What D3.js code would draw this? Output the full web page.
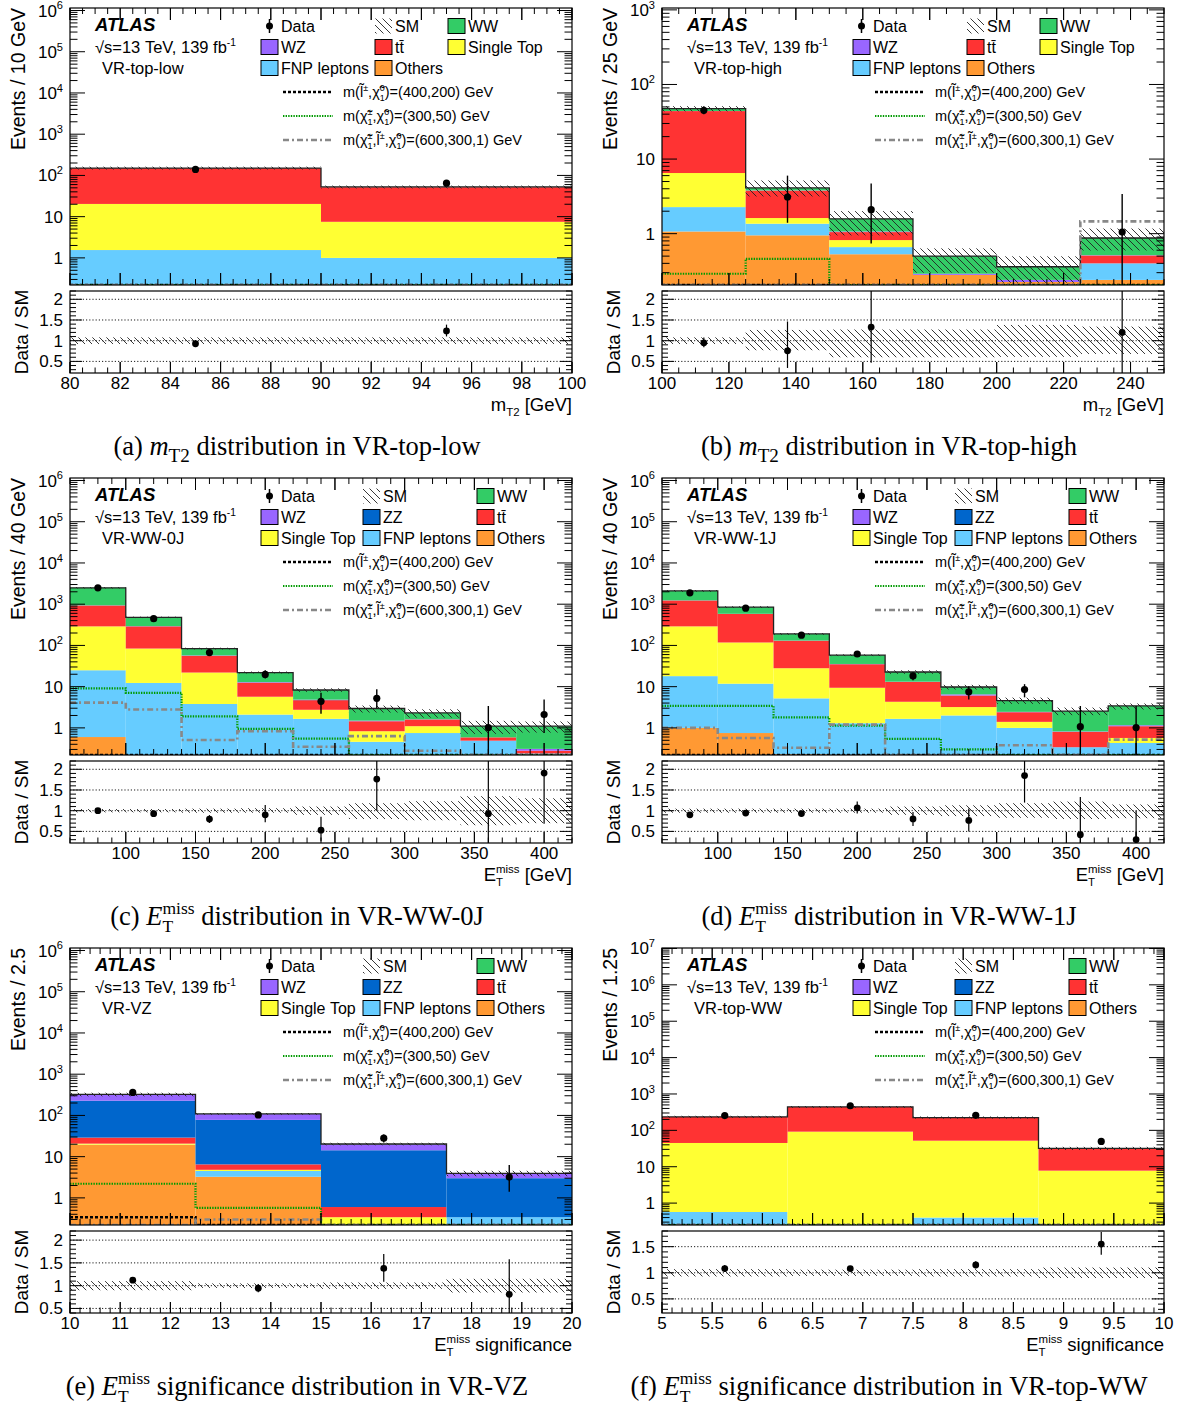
<!DOCTYPE html>
<html>
<head>
<meta charset="utf-8">
<script src="https://cdn.jsdelivr.net/npm/d3@7"></script>
<style>
body { margin: 0; background: #fff; }
</style>
</head>
<body>
<div id="fig"></div>
<script>
// ---- (a) VR-top-low, mT2 ----
const aEdges = [80, 90, 100];
const aTicks = [80, 82, 84, 86, 88, 90, 92, 94, 96, 98, 100];
const aOthers = [0.05, 0.05];
const aFnp = [1.5, 0.95];
const aSingleTop = [18.8, 6.5];
const aTtbar = [130, 44.5];
const aZZ = [0, 0];
const aWZ = [0.3, 0.2];
const aWW = [0.5, 0.4];
const aData = [140, 65];
const aDataLo = [128, 58];
const aDataHi = [152, 73];
const aBandLo = [0.92, 0.92];
const aBandHi = [1.08, 1.08];
const aSigSlep = [0, 0];
const aSigC1 = [0, 0];
const aSigC1Slep = [0, 0];

// ---- (b) VR-top-high, mT2 ----
const bEdges = [100, 125, 150, 175, 200, 225, 250];
const bTicks = [100, 120, 140, 160, 180, 200, 220, 240];
const bOthers = [1.07, 0.95, 0.53, 0.28, 0.225, 0.24];
const bFnp = [1.2, 0.41, 0.13, 0, 0, 0.16];
const bSingleTop = [4.23, 0.26, 0.16, 0, 0, 0];
const bTtbar = [37.5, 2.16, 0.23, 0, 0, 0.11];
const bZZ = [0, 0, 0, 0, 0, 0];
const bWZ = [0.1, 0.02, 0.02, 0.01, 0.015, 0.005];
const bWW = [3.3, 0.3, 0.51, 0.21, 0.12, 0.36];
const bData = [45, 3.1, 2.1, null, null, 1.05];
const bDataLo = [40, 1.4, 0.74, null, null, 0.17];
const bDataHi = [51, 6.0, 4.7, null, null, 3.4];
const bBandLo = [0.92, 0.77, 0.6, 0.6, 0.61, 0.68];
const bBandHi = [1.08, 1.26, 1.27, 1.27, 1.38, 1.34];
const bSigSlep = [0, 0, 0, 0, 0, 0];
const bSigC1 = [0.29, 0.46, 0, 0, 0, 0];
const bSigC1Slep = [0, 0, 0, 0, 0, 1.46];

// ---- (c) VR-WW-0J, MET ----
const cEdges = [60, 100, 140, 180, 220, 260, 300, 340, 380, 420];
const cTicks = [100, 150, 200, 250, 300, 350, 400];
const cOthers = [0.6, 0, 0, 0, 0, 0, 0, 0, 0];
const cFnp = [24.4, 12.3, 3.8, 2.1, 1.66, 0.46, 0.75, 0.49, 0.24];
const cSingleTop = [265, 71.7, 18.2, 3.6, 1.09, 0.37, 0.35, 0, 0];
const cTtbar = [640, 206, 34, 6.8, 1.95, 0.62, 0.5, 0.1, 0.04];
const cZZ = [3, 1, 0.3, 0.1, 0.05, 0, 0, 0, 0];
const cWZ = [8, 3, 1, 0.3, 0.1, 0.05, 0.02, 0, 0.03];
const cWW = [1560, 186, 26.7, 9.1, 3.45, 1.45, 0.68, 0.51, 0.79];
const cData = [2500, 446, 67, 19.8, 4.4, 5.2, null, 1.02, 2.1];
const cDataLo = [2450, 425, 59, 15.8, 2.2, 3.0, null, 0.17, 0.75];
const cDataHi = [2550, 467, 75, 25, 7.1, 8.6, null, 3.4, 4.9];
const cBandLo = [0.96, 0.96, 0.95, 0.95, 0.9, 0.8, 0.77, 0.65, 0.7];
const cBandHi = [1.04, 1.04, 1.05, 1.06, 1.1, 1.18, 1.23, 1.35, 1.3];
const cSigSlep = [0, 0, 0, 0, 0, 0, 0, 0, 0];
const cSigC1 = [9.1, 7.1, 1.9, 0.95, 0.55, 0, 0, 0, 0];
const cSigC1Slep = [4.1, 2.8, 0.51, 0.83, 0.35, 0.63, 0.28, 0, 0];

// ---- (d) VR-WW-1J, MET ----
const dEdges = [60, 100, 140, 180, 220, 260, 300, 340, 380, 420];
const dTicks = [100, 150, 200, 250, 300, 350, 400];
const dOthers = [1.0, 0.75, 0.23, 0, 0, 0, 0, 0, 0];
const dFnp = [17, 11.05, 4.97, 1.3, 1.66, 2.0, 1.0, 0.34, 0.43];
const dSingleTop = [272, 106, 22.8, 8.1, 2.64, 1.2, 0.4, 0, 0.14];
const dTtbar = [940, 462, 102, 25.6, 8.7, 2.9, 1.0, 0.46, 0.53];
const dZZ = [3, 1, 0.3, 0.1, 0, 0, 0, 0, 0];
const dWZ = [8, 4, 1, 0.4, 0.2, 0.4, 0.05, 0.02, 0.06];
const dWW = [860, 265, 58.7, 22.5, 9.5, 3.3, 2.15, 1.73, 2.24];
const dData = [1890, 800, 177, 62, 18.2, 7.5, 8.5, 1.07, 1.02];
const dDataLo = [1845, 772, 164, 54, 14.3, 4.9, 5.5, 0.17, 0.17];
const dDataHi = [1935, 828, 190, 71, 22, 10.3, 11.5, 3.4, 3.4];
const dBandLo = [0.95, 0.95, 0.95, 0.95, 0.9, 0.87, 0.83, 0.8, 0.82];
const dBandHi = [1.05, 1.05, 1.05, 1.05, 1.1, 1.13, 1.18, 1.22, 1.15];
const dSigSlep = [0, 0, 0, 0, 0, 0, 0, 0, 0];
const dSigC1 = [3.4, 3.4, 1.8, 1.14, 0.54, 0.3, 0, 0, 0];
const dSigC1Slep = [1.0, 0.57, 0.33, 1.2, 0, 0, 0.38, 0, 0.52];

// ---- (e) VR-VZ, MET significance ----
const eEdges = [10, 12.5, 15, 17.5, 20];
const eTicks = [10, 11, 12, 13, 14, 15, 16, 17, 18, 19, 20];
const eOthers = [19.3, 3.25, 0, 0];
const eFnp = [0.2, 1.25, 0, 0.34];
const eSingleTop = [1.2, 0.3, 0.34, 0];
const eTtbar = [8.3, 1.7, 0.26, 0];
const eZZ = [199, 71.5, 13.7, 2.66];
const eWZ = [87, 30, 5.7, 0.9];
const eWW = [8, 1, 0.3, 0.05];
const eData = [362, 103, 28, 3.2];
const eDataLo = [343, 93, 22, 1.4];
const eDataHi = [381, 113, 34.4, 6.25];
const eBandLo = [0.9, 0.95, 0.93, 0.85];
const eBandHi = [1.1, 1.05, 1.07, 1.15];
const eSigSlep = [0.34, 0, 0, 0];
const eSigC1 = [2.2, 0.57, 0, 0];
const eSigC1Slep = [0, 0.3, 0, 0];

// ---- (f) VR-top-WW, MET significance ----
const fEdges = [5, 6.25, 7.5, 8.75, 10];
const fTicks = [5, 5.5, 6, 6.5, 7, 7.5, 8, 8.5, 9, 9.5, 10];
const fOthers = [0, 0, 0, 0];
const fFnp = [0.57, 0, 0.4, 0];
const fSingleTop = [44.4, 92, 51.6, 7.8];
const fTtbar = [190, 348, 173, 24.2];
const fZZ = [0, 0, 0, 0];
const fWZ = [0, 0, 0, 0];
const fWW = [0, 0, 0, 0];
const fData = [254, 475, 259, 49.6];
const fDataLo = [238, 453, 243, 43];
const fDataHi = [270, 497, 275, 57];
const fBandLo = [0.93, 0.94, 0.93, 0.9];
const fBandHi = [1.07, 1.06, 1.07, 1.1];
const fSigSlep = [0, 0, 0, 0];
const fSigC1 = [0, 0, 0, 0];
const fSigC1Slep = [0, 0, 0, 0];

const SANS = '"Liberation Sans", Arial, Helvetica, sans-serif';
const SERIF = '"Liberation Serif", "Times New Roman", serif';
const keys = ["others", "fnp", "st", "tt", "zz", "wz", "ww"];
const colors = { others: "#ff9933", fnp: "#66ccff", st: "#ffff33", tt: "#ff3333",
                 zz: "#0066cc", wz: "#9966ff", ww: "#33cc66" };

const TILDE = "\u0303";
const mt2Title = ["m", { sub: "T2" }, " [GeV]"];
const metTitle = ["E", { sup: "miss", sub: "T" }, " [GeV]"];
const sigTitle = ["E", { sup: "miss", sub: "T" }, " significance"];
const mt2Cap = (l, r) => ["(" + l + ") ", { t: "m", i: true }, { sub: "T2", scale: 0.72 }, " distribution in " + r];
const metCap = (l, txt) => ["(" + l + ") ", { t: "E", i: true }, { sup: "miss", sub: "T", scale: 0.66 }, txt];

const panels = [
  { edges: aEdges, others: aOthers, fnp: aFnp, st: aSingleTop, tt: aTtbar, zz: aZZ, wz: aWZ, ww: aWW,
    data: aData, lo: aDataLo, hi: aDataHi, bandLo: aBandLo, bandHi: aBandHi, sig: [aSigSlep, aSigC1, aSigC1Slep],
    yDom: [0.22, 1.15e6], rDom: [0.22, 2.2], rMajor: [0.5, 1, 1.5, 2], xTicks: aTicks, xMinor: 0.5,
    yTitle: "Events / 10 GeV", region: "VR-top-low", legend: "ab", xTitle: mt2Title, caption: mt2Cap("a", "VR-top-low") },
  { edges: bEdges, others: bOthers, fnp: bFnp, st: bSingleTop, tt: bTtbar, zz: bZZ, wz: bWZ, ww: bWW,
    data: bData, lo: bDataLo, hi: bDataHi, bandLo: bBandLo, bandHi: bBandHi, sig: [bSigSlep, bSigC1, bSigC1Slep],
    yDom: [0.205, 1.06e3], rDom: [0.22, 2.2], rMajor: [0.5, 1, 1.5, 2], xTicks: bTicks, xMinor: 5,
    yTitle: "Events / 25 GeV", region: "VR-top-high", legend: "ab", xTitle: mt2Title, caption: mt2Cap("b", "VR-top-high") },
  { edges: cEdges, others: cOthers, fnp: cFnp, st: cSingleTop, tt: cTtbar, zz: cZZ, wz: cWZ, ww: cWW,
    data: cData, lo: cDataLo, hi: cDataHi, bandLo: cBandLo, bandHi: cBandHi, sig: [cSigSlep, cSigC1, cSigC1Slep],
    yDom: [0.22, 1.15e6], rDom: [0.22, 2.2], rMajor: [0.5, 1, 1.5, 2], xTicks: cTicks, xMinor: 10,
    yTitle: "Events / 40 GeV", region: "VR-WW-0J", legend: "cdef", xTitle: metTitle, caption: metCap("c", " distribution in VR-WW-0J") },
  { edges: dEdges, others: dOthers, fnp: dFnp, st: dSingleTop, tt: dTtbar, zz: dZZ, wz: dWZ, ww: dWW,
    data: dData, lo: dDataLo, hi: dDataHi, bandLo: dBandLo, bandHi: dBandHi, sig: [dSigSlep, dSigC1, dSigC1Slep],
    yDom: [0.22, 1.15e6], rDom: [0.22, 2.2], rMajor: [0.5, 1, 1.5, 2], xTicks: dTicks, xMinor: 10,
    yTitle: "Events / 40 GeV", region: "VR-WW-1J", legend: "cdef", xTitle: metTitle, caption: metCap("d", " distribution in VR-WW-1J") },
  { edges: eEdges, others: eOthers, fnp: eFnp, st: eSingleTop, tt: eTtbar, zz: eZZ, wz: eWZ, ww: eWW,
    data: eData, lo: eDataLo, hi: eDataHi, bandLo: eBandLo, bandHi: eBandHi, sig: [eSigSlep, eSigC1, eSigC1Slep],
    yDom: [0.22, 1.15e6], rDom: [0.4, 2.2], rMajor: [0.5, 1, 1.5, 2], xTicks: eTicks, xMinor: 0.2,
    yTitle: "Events / 2.5", region: "VR-VZ", legend: "cdef", xTitle: sigTitle, caption: metCap("e", " significance distribution in VR-VZ") },
  { edges: fEdges, others: fOthers, fnp: fFnp, st: fSingleTop, tt: fTtbar, zz: fZZ, wz: fWZ, ww: fWW,
    data: fData, lo: fDataLo, hi: fDataHi, bandLo: fBandLo, bandHi: fBandHi, sig: [fSigSlep, fSigC1, fSigC1Slep],
    yDom: [0.25, 1.03e7], rDom: [0.23, 1.8], rMajor: [0.5, 1, 1.5], xTicks: fTicks, xMinor: 0.1,
    yTitle: "Events / 1.25", region: "VR-top-WW", legend: "cdef", xTitle: sigTitle, caption: metCap("f", " significance distribution in VR-top-WW") }
];

const svg = d3.select("#fig").append("svg").attr("width", 1183).attr("height", 1409);
const defs = svg.append("defs");
defs.append("pattern").attr("id", "hatch").attr("patternUnits", "userSpaceOnUse")
  .attr("width", 7).attr("height", 7)
  .append("path").attr("d", "M-1,-1 L8,8 M6,-1 L8,1 M-1,6 L1,8")
  .attr("stroke", "#222").attr("stroke-width", 0.9);

const nb = s => s.replace(/ /g, "\u00a0"); // espaces insecables, sinon svg les mange

// texte avec exposants / indices (les deux empiles si besoin)
function rich(g, x, y, parts, opt) {
  const size = opt.size, fam = opt.family || SANS;
  const grp = g.append("g");
  let cx = 0;
  parts.forEach(p => {
    if (typeof p === "string") p = { t: p };
    if (p.t !== undefined) {
      const el = grp.append("text").attr("x", cx).attr("y", 0)
        .attr("font-size", size).attr("font-family", fam)
        .attr("font-style", p.i || opt.italic ? "italic" : "normal")
        .attr("font-weight", opt.bold ? "bold" : "normal").text(nb(p.t));
      cx += el.node().getComputedTextLength();
    } else {
      const s = size * (p.scale || 0.62);
      let w = 0;
      if (p.sup !== undefined) {
        const el = grp.append("text").attr("x", cx).attr("y", -size * 0.42)
          .attr("font-size", s).attr("font-family", fam).text(p.sup);
        w = Math.max(w, el.node().getComputedTextLength());
      }
      if (p.sub !== undefined) {
        const el = grp.append("text").attr("x", cx).attr("y", size * 0.28)
          .attr("font-size", s).attr("font-family", fam).text(p.sub);
        w = Math.max(w, el.node().getComputedTextLength());
      }
      cx += w;
    }
  });
  const dx = opt.anchor === "end" ? -cx : opt.anchor === "middle" ? -cx / 2 : 0;
  grp.attr("transform", `translate(${x + dx},${y})`);
  return grp;
}

function stepPath(vals, x, y, edges) {
  let s = "";
  vals.forEach((v, i) => {
    const yy = y(v);
    s += (i === 0 ? `M${x(edges[0])},${yy}` : `V${yy}`) + `H${x(edges[i + 1])}`;
  });
  return s;
}

const sigStyles = [
  { stroke: "#000", width: 2.6, dash: "3,2" },
  { stroke: "#009a00", width: 2.2, dash: "1.4,1.2" },
  { stroke: "#888", width: 2.6, dash: "6,3,2,3" }
];

function drawLegend(g, X0, Y0, p) {
  rich(g, X0 + 25, Y0 + 23, ["ATLAS"], { size: 18.5, bold: true, italic: true });
  rich(g, X0 + 25, Y0 + 45, ["\u221As=13 TeV, 139 fb", { sup: "-1" }], { size: 16.5 });
  rich(g, X0 + 32, Y0 + 66, [p.region], { size: 16.5 });

  const cols = p.legend === "ab" ? [191, 305, 378] : [191, 293, 407];
  const rowsY = [18, 39, 60];
  const tt = "t" + "t\u0304";
  const entries = p.legend === "ab"
    ? [[["data", "Data"], ["sm", "SM"], ["ww", "WW"]],
       [["wz", "WZ"], ["tt", tt], ["st", "Single Top"]],
       [["fnp", "FNP leptons"], ["others", "Others"]]]
    : [[["data", "Data"], ["sm", "SM"], ["ww", "WW"]],
       [["wz", "WZ"], ["zz", "ZZ"], ["tt", tt]],
       [["st", "Single Top"], ["fnp", "FNP leptons"], ["others", "Others"]]];
  entries.forEach((row, ri) => row.forEach((e, ci) => {
    const bx = X0 + cols[ci], cy = Y0 + rowsY[ri];
    if (e[0] === "data") {
      g.append("line").attr("x1", bx + 8.5).attr("x2", bx + 8.5).attr("y1", cy - 7).attr("y2", cy + 7)
        .attr("stroke", "#000").attr("stroke-width", 1.5);
      g.append("circle").attr("cx", bx + 8.5).attr("cy", cy).attr("r", 3.5).attr("fill", "#000");
    } else if (e[0] === "sm") {
      g.append("rect").attr("x", bx).attr("y", cy - 7.5).attr("width", 17).attr("height", 15)
        .attr("fill", "url(#hatch)");
    } else {
      g.append("rect").attr("x", bx).attr("y", cy - 7.5).attr("width", 17).attr("height", 15)
        .attr("fill", colors[e[0]]).attr("stroke", "#000").attr("stroke-width", 1);
    }
    rich(g, bx + 20, cy + 6, [e[1]], { size: 16 });
  }));

  const chi = "\u03c7" + TILDE, sl = "l" + TILDE;
  const sigTexts = [
    ["m(", sl, { sup: "\u00b1" }, ",", chi, { sup: "0", sub: "1" }, ")=(400,200) GeV"],
    ["m(", chi, { sup: "\u00b1", sub: "1" }, ",", chi, { sup: "0", sub: "1" }, ")=(300,50) GeV"],
    ["m(", chi, { sup: "\u00b1", sub: "1" }, ",", sl, { sup: "\u00b1" }, ",", chi, { sup: "0", sub: "1" }, ")=(600,300,1) GeV"]
  ];
  sigTexts.forEach((t, i) => {
    const cy = Y0 + 84 + i * 24;
    const st = sigStyles[i];
    g.append("line").attr("x1", X0 + 213).attr("x2", X0 + 263).attr("y1", cy).attr("y2", cy)
      .attr("stroke", st.stroke).attr("stroke-width", st.width).attr("stroke-dasharray", st.dash);
    rich(g, X0 + 273, cy + 5, t, { size: 14.5 });
  });
}

function drawPanel(p, idx) {
  const col = idx % 2, row = Math.floor(idx / 2);
  const X0 = 70 + col * 592, X1 = X0 + 502;
  const Y0 = 8 + row * 470, Y1 = Y0 + 277, R0 = Y0 + 283, R1 = Y0 + 365;
  const edges = p.edges, nbins = edges.length - 1, bins = d3.range(nbins);
  const g = svg.append("g");

  const x = d3.scaleLinear().domain([edges[0], edges[nbins]]).range([X0, X1]);
  const y = d3.scaleLog().domain(p.yDom).range([Y1, Y0]).clamp(true);
  const r = d3.scaleLinear().domain(p.rDom).range([R1, R0]).clamp(true);

  defs.append("clipPath").attr("id", "mclip" + idx).append("rect")
    .attr("x", X0).attr("y", Y0).attr("width", X1 - X0).attr("height", Y1 - Y0);
  defs.append("clipPath").attr("id", "rclip" + idx).append("rect")
    .attr("x", X0).attr("y", R0).attr("width", X1 - X0).attr("height", R1 - R0);

  // --- empilement
  const rows = bins.map(i => { const o = {}; keys.forEach(k => o[k] = p[k][i]); return o; });
  const series = d3.stack().keys(keys)(rows);
  const totals = bins.map(i => d3.sum(keys, k => p[k][i]));
  const main = g.append("g").attr("clip-path", `url(#mclip${idx})`);

  series.forEach(s => {
    main.append("g").selectAll("rect")
      .data(s.map((d, i) => ({ y0: d[0], y1: d[1], i })).filter(d => d.y1 > d.y0))
      .join("rect")
      .attr("x", d => x(edges[d.i])).attr("width", d => x(edges[d.i + 1]) - x(edges[d.i]))
      .attr("y", d => y(d.y1)).attr("height", d => Math.max(0, y(d.y0) - y(d.y1)))
      .attr("fill", colors[s.key]);
  });

  main.append("g").selectAll("rect").data(bins).join("rect")
    .attr("x", i => x(edges[i])).attr("width", i => x(edges[i + 1]) - x(edges[i]))
    .attr("y", i => y(totals[i] * p.bandHi[i]))
    .attr("height", i => y(totals[i] * p.bandLo[i]) - y(totals[i] * p.bandHi[i]))
    .attr("fill", "url(#hatch)");

  main.append("path").attr("d", stepPath(totals, x, y, edges))
    .attr("fill", "none").attr("stroke", "#222").attr("stroke-width", 1.3);

  p.sig.forEach((vals, si) => {
    const st = sigStyles[si];
    main.append("path").attr("d", stepPath(vals, x, y, edges)).attr("fill", "none")
      .attr("stroke", st.stroke).attr("stroke-width", st.width).attr("stroke-dasharray", st.dash);
  });

  const pts = bins.filter(i => p.data[i] !== null);
  main.append("g").selectAll("line").data(pts).join("line")
    .attr("x1", i => x((edges[i] + edges[i + 1]) / 2)).attr("x2", i => x((edges[i] + edges[i + 1]) / 2))
    .attr("y1", i => y(p.lo[i])).attr("y2", i => y(p.hi[i]))
    .attr("stroke", "#000").attr("stroke-width", 1.4);
  main.append("g").selectAll("circle").data(pts).join("circle")
    .attr("cx", i => x((edges[i] + edges[i + 1]) / 2)).attr("cy", i => y(p.data[i]))
    .attr("r", 3.6).attr("fill", "#000");

  // --- rapport
  const rat = g.append("g").attr("clip-path", `url(#rclip${idx})`);
  rat.append("g").selectAll("line").data(p.rMajor).join("line")
    .attr("x1", X0).attr("x2", X1).attr("y1", v => r(v)).attr("y2", v => r(v))
    .attr("stroke", "#000").attr("stroke-width", 0.9).attr("stroke-dasharray", "1.2,2");
  rat.append("g").selectAll("rect").data(bins).join("rect")
    .attr("x", i => x(edges[i])).attr("width", i => x(edges[i + 1]) - x(edges[i]))
    .attr("y", i => r(p.bandHi[i])).attr("height", i => r(p.bandLo[i]) - r(p.bandHi[i]))
    .attr("fill", "url(#hatch)");
  rat.append("g").selectAll("line").data(pts).join("line")
    .attr("x1", i => x((edges[i] + edges[i + 1]) / 2)).attr("x2", i => x((edges[i] + edges[i + 1]) / 2))
    .attr("y1", i => r(p.lo[i] / totals[i])).attr("y2", i => r(p.hi[i] / totals[i]))
    .attr("stroke", "#000").attr("stroke-width", 1.2);
  rat.append("g").selectAll("circle").data(pts).join("circle")
    .attr("cx", i => x((edges[i] + edges[i + 1]) / 2)).attr("cy", i => r(p.data[i] / totals[i]))
    .attr("r", 3.4).attr("fill", "#000");

  // --- cadres et graduations
  g.append("rect").attr("x", X0).attr("y", Y0).attr("width", X1 - X0).attr("height", Y1 - Y0)
    .attr("fill", "none").attr("stroke", "#000").attr("stroke-width", 1.2);
  g.append("rect").attr("x", X0).attr("y", R0).attr("width", X1 - X0).attr("height", R1 - R0)
    .attr("fill", "none").attr("stroke", "#000").attr("stroke-width", 1.2);

  let tk = "";
  const lo = edges[0], hi = edges[nbins];
  const minors = d3.range(Math.ceil(lo / p.xMinor - 1e-6), Math.floor(hi / p.xMinor + 1e-6) + 1).map(k => k * p.xMinor);
  minors.forEach(v => {
    const major = p.xTicks.some(t => Math.abs(t - v) < 1e-6);
    const L = major ? 12 : 6, xx = x(v);
    tk += `M${xx},${Y0}v${L}M${xx},${Y1}v${-L}M${xx},${R1}v${-(major ? 11 : 5.5)}`;
  });
  p.xTicks.forEach(v => { const xx = x(v); tk += `M${xx},${Y0}v12M${xx},${Y1}v-12M${xx},${R1}v-11`; });

  for (let k = -1; k <= 7; k++) {
    for (let m = 1; m <= 9; m++) {
      const v = m * Math.pow(10, k);
      if (v < p.yDom[0] || v > p.yDom[1]) continue;
      const L = m === 1 ? 15 : 7.5, yy = y(v);
      tk += `M${X0},${yy}h${L}M${X1},${yy}h${-L}`;
    }
  }
  d3.range(Math.ceil(p.rDom[0] * 10 - 1e-6), Math.floor(p.rDom[1] * 10 + 1e-6) + 1).forEach(k => {
    const v = k / 10, major = p.rMajor.some(t => Math.abs(t - v) < 1e-6);
    const L = major ? 12 : 6, yy = r(v);
    tk += `M${X0},${yy}h${L}M${X1},${yy}h${-L}`;
  });
  g.append("path").attr("d", tk).attr("stroke", "#000").attr("stroke-width", 1).attr("fill", "none");

  // --- etiquettes
  p.xTicks.forEach(v => rich(g, x(v), R1 + 16, [String(v)], { size: 17, anchor: "middle" }));
  for (let k = -1; k <= 7; k++) {
    const v = Math.pow(10, k);
    if (v < p.yDom[0] || v > p.yDom[1] * 1.001) continue;
    const parts = k === 0 ? ["1"] : k === 1 ? ["10"] : ["10", { sup: String(k), scale: 0.65 }];
    rich(g, X0 - 7, y(v) + 6, parts, { size: 17, anchor: "end" });
  }
  p.rMajor.forEach(v => rich(g, X0 - 7, r(v) + 6, [String(v)], { size: 17, anchor: "end" }));

  g.append("text").attr("transform", `translate(${X0 - 45},${Y0}) rotate(-90)`)
    .attr("text-anchor", "end").attr("font-family", SANS).attr("font-size", 19.5).text(p.yTitle);
  g.append("text").attr("transform", `translate(${X0 - 42},${(R0 + R1) / 2}) rotate(-90)`)
    .attr("text-anchor", "middle").attr("font-family", SANS).attr("font-size", 19).text("Data / SM");

  rich(g, X1, Y0 + 403, p.xTitle, { size: 18.5, anchor: "end" });
  rich(g, 297 + col * 592, Y0 + 447, p.caption, { size: 26.5, family: SERIF, anchor: "middle" });

  drawLegend(g, X0, Y0, p);
}

panels.forEach(drawPanel);
</script>
</body>
</html>
